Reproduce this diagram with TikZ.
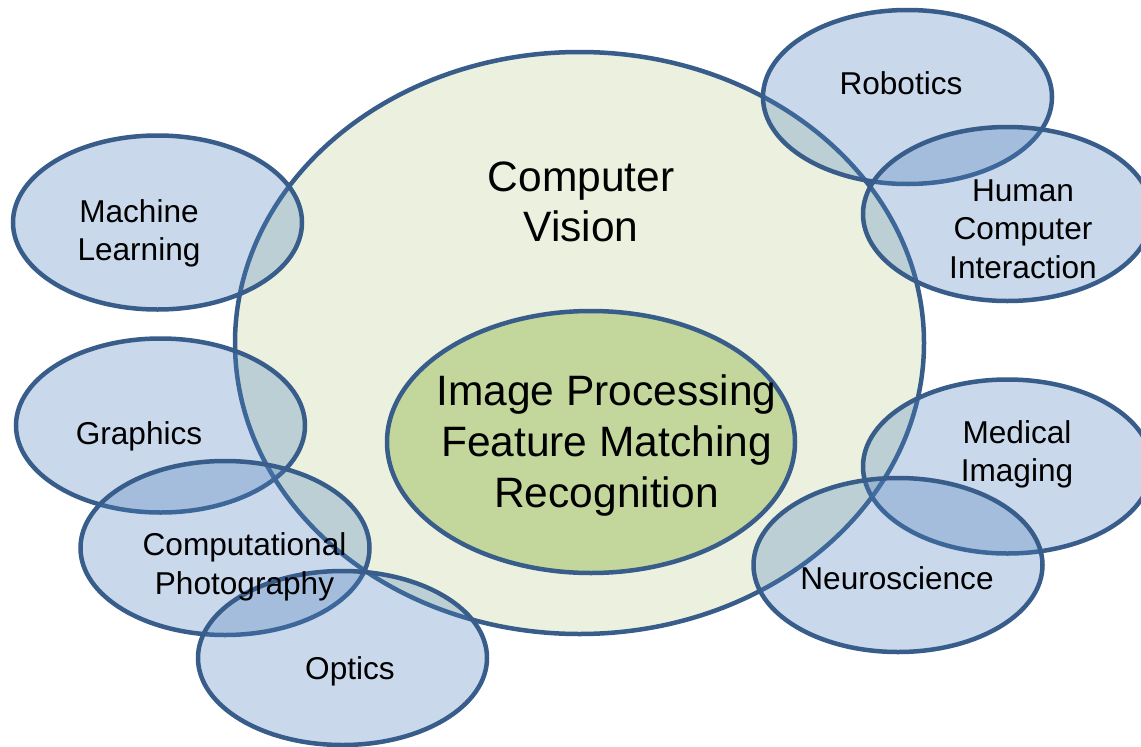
\documentclass[tikz,border=0pt]{standalone}
\usepackage{fontspec}
\setmainfont{Liberation Sans}
\usetikzlibrary{shapes.geometric}
\definecolor{edge}{RGB}{56,93,138}
\definecolor{cvfill}{RGB}{235,241,222}
\definecolor{ipfill}{RGB}{195,214,155}
\definecolor{fieldfill}{RGB}{79,129,189}
\begin{document}
\begin{tikzpicture}[x=1pt,y=-1pt,
  ell/.style={ellipse, draw=edge, line width=4.5pt, inner sep=0pt, outer sep=0pt},
  field/.style={ell, fill=fieldfill, fill opacity=0.3, minimum width=289pt, minimum height=174pt},
  small/.style={font=\fontsize{31.6}{38.3}\selectfont, align=center, inner sep=0pt, text=black},
  big/.style={font=\fontsize{42.5}{49.5}\selectfont, align=center, inner sep=0pt, text=black},
  inner/.style={font=\fontsize{42.5}{51}\selectfont, align=center, inner sep=0pt, text=black}]
\useasboundingbox (0,0) rectangle (1141,747);
\fill[white] (0,0) rectangle (1141,747);
% main ellipses
\node[ell, fill=cvfill, minimum width=689pt, minimum height=582pt] (cv) at (579.5,343) {};
\node[ell, fill=ipfill, minimum width=408pt, minimum height=262pt] (ip) at (591,442) {};
% surrounding fields
\node[field] (ml) at (157.5,222.5) {};
\node[field] (gr) at (160.5,425.5) {};
\node[field] (cp) at (225,548) {};
\node[field] (op) at (342.5,658) {};
\node[field] (ro) at (907.5,97) {};
\node[field] (hc) at (1007.5,214) {};
\node[field] (mi) at (1007.5,466.5) {};
\node[field] (ns) at (898,565) {};
% labels
\node[big] (cvt) at (581,202) {Computer\\Vision};
\node[inner] (ipt) at (606.5,446) {Image Processing\\Feature Matching\\Recognition};
\node[small] (mlt) at (139,233.5) {Machine\\Learning};
\node[small] (grt) at (139,436) {Graphics};
\node[small] (cpt) at (244.5,566.7) {Computational\\Photography};
\node[small] (opt) at (350,671.7) {Optics};
\node[small] (rot) at (901,83.3) {Robotics};
\node[small] (hct) at (1023,229) {Human\\Computer\\Interaction};
\node[small] (mit) at (1017,454) {Medical\\Imaging};
\node[small] (nst) at (897,578.3) {Neuroscience};
\end{tikzpicture}
\end{document}
